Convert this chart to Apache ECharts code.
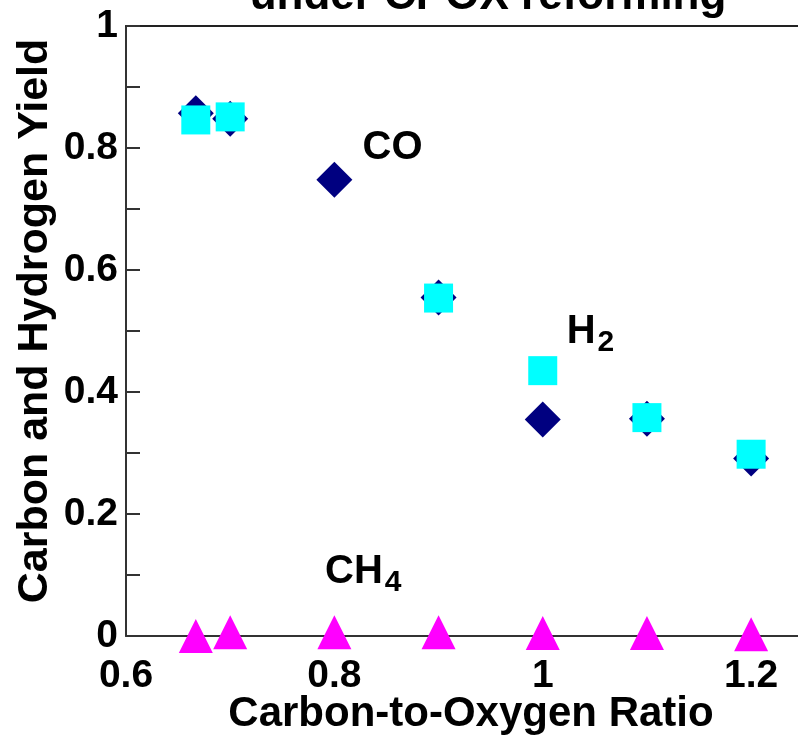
<!DOCTYPE html>
<html>
<head>
<meta charset="utf-8">
<script src="https://cdn.jsdelivr.net/npm/echarts@6/dist/echarts.min.js"></script>
<style>html,body{margin:0;padding:0;background:#fff;}#c{width:798px;height:736px;}</style>
</head>
<body>
<div id="c"></div>
<script>
// ---- data ----
const coX  = [0.667, 0.7, 0.8, 0.9, 1.0, 1.1, 1.2];
const coY  = [0.857, 0.848, 0.748, 0.555, 0.355, 0.356, 0.291];
const h2X  = [0.667, 0.7, 0.9, 1.0, 1.1, 1.2];
const h2Y  = [0.846, 0.851, 0.554, 0.435, 0.358, 0.298];
const ch4X = [0.667, 0.7, 0.8, 0.9, 1.0, 1.1, 1.2];
const ch4Y = [0.0, 0.006, 0.006, 0.006, 0.005, 0.005, 0.003];
const xTicks = [0.6, 0.8, 1.0, 1.2];
const titleText = 'under CPOX reforming';
const xName = 'Carbon-to-Oxygen Ratio';
const yName = 'Carbon and Hydrogen Yield';
// annotation labels: main text, subscript, position in data coordinates
const labelMain = ['CO', 'H', 'CH'];
const labelSub  = ['', '2', '4'];
const labelX = [0.827, 1.023, 0.791];
const labelY = [0.80, 0.498, 0.105];

const FONT = '"Liberation Sans", Arial, sans-serif';
const zip = (xs, ys) => xs.map((x, i) => [x, ys[i]]);

const chart = echarts.init(document.getElementById('c'), null, {renderer: 'canvas'});
const option = {
  animation: false,
  backgroundColor: '#fff',
  grid: {left: 126, top: 26, right: 0, bottom: 100, show: false},
  xAxis: [{
    type: 'value', min: 0.6, max: 1.245, interval: 0.2,
    axisLine: {show: true, onZero: false, lineStyle: {color: '#333', width: 2}},
    axisTick: {show: false},
    splitLine: {show: false},
    axisLabel: {fontFamily: FONT, fontWeight: 'bold', fontSize: 39, color: '#000', margin: 21, showMaxLabel: false,
      formatter: v => xTicks.some(t => Math.abs(t - v) < 1e-6) ? String(Math.round(v * 10) / 10) : ''}
  }, {
    type: 'value', position: 'top', min: 0.6, max: 1.245,
    axisLine: {show: true, onZero: false, lineStyle: {color: '#222', width: 2}},
    axisTick: {show: false}, axisLabel: {show: false}, splitLine: {show: false}
  }],
  yAxis: {
    type: 'value', min: 0, max: 1, interval: 0.1,
    axisLine: {show: true, lineStyle: {color: '#333', width: 2}},
    axisTick: {show: true, inside: true, length: 14, lineStyle: {color: '#333', width: 2}},
    splitLine: {show: false},
    axisLabel: {
      fontFamily: FONT, fontWeight: 'bold', fontSize: 39, color: '#000', margin: 8,
      formatter: v => (Math.round(v * 10) % 2 === 0) ? String(Math.round(v * 10) / 10) : ''
    }
  },
  series: [
    {name: 'CO', type: 'scatter', symbol: 'diamond', symbolSize: 36, itemStyle: {color: '#000080', opacity: 1}, data: zip(coX, coY), z: 2},
    {name: 'H2', type: 'scatter', symbol: 'rect', symbolSize: 29, itemStyle: {color: '#00FFFF', opacity: 1}, data: zip(h2X, h2Y), z: 3},
    {name: 'CH4', type: 'scatter', symbol: 'triangle', symbolSize: 34, itemStyle: {color: '#FF00FF', opacity: 1}, data: zip(ch4X, ch4Y), z: 4}
  ]
};
chart.setOption(option);

const ctx = document.createElement('canvas').getContext('2d');
const g = [];
g.push({type: 'text', style: {text: titleText, font: 'bold 44px ' + FONT, fill: '#000', textAlign: 'center', textVerticalAlign: 'bottom'}, position: [488, 19], silent: true});
g.push({type: 'text', style: {text: xName, font: 'bold 42px ' + FONT, fill: '#000', textAlign: 'center', textVerticalAlign: 'middle'}, position: [471, 714], silent: true});
g.push({type: 'text', style: {text: yName, font: 'bold 43px ' + FONT, fill: '#000', textAlign: 'center', textVerticalAlign: 'middle'}, position: [35, 321], rotation: Math.PI / 2, silent: true});
labelMain.forEach((t, i) => {
  const p = chart.convertToPixel({gridIndex: 0}, [labelX[i], labelY[i]]);
  g.push({type: 'text', style: {text: t, font: 'bold 40px ' + FONT, fill: '#000', textAlign: 'left', textVerticalAlign: 'middle'}, position: [p[0], p[1]], silent: true});
  if (labelSub[i]) {
    ctx.font = 'bold 40px ' + FONT;
    const mw = ctx.measureText(t).width;
    g.push({type: 'text', style: {text: labelSub[i], font: 'bold 30px ' + FONT, fill: '#000', textAlign: 'left', textVerticalAlign: 'middle'}, position: [p[0] + mw + 2, p[1] + 11], silent: true});
  }
});
chart.setOption({graphic: g});
</script>
</body>
</html>
